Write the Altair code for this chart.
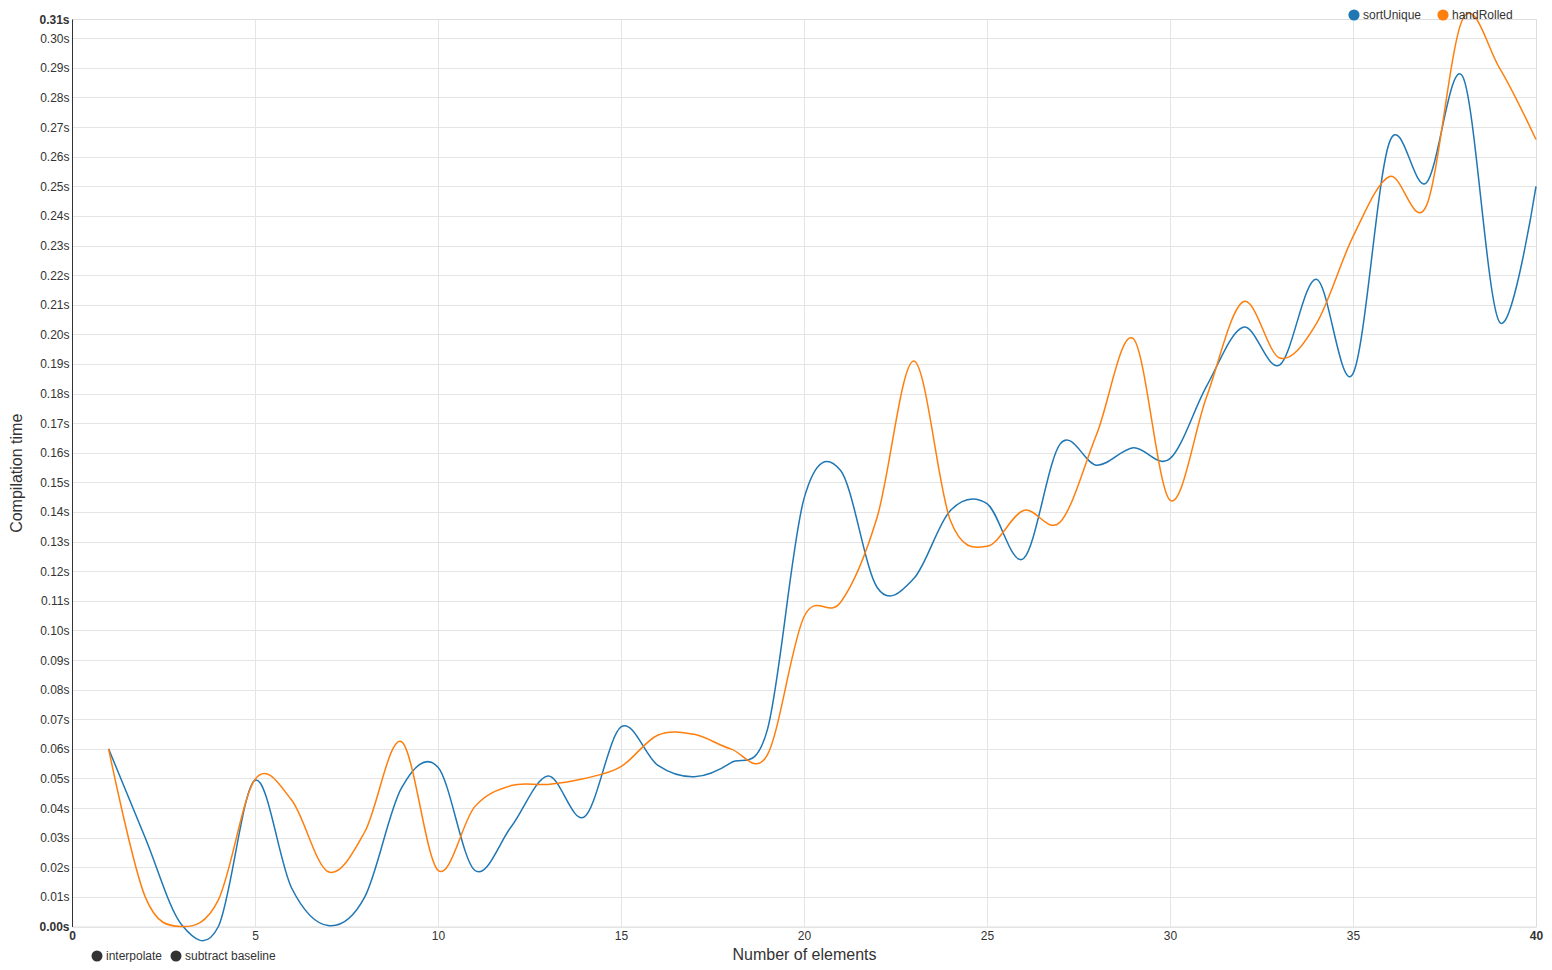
import altair as alt
import pandas as pd

# ---- data ----
n_elements = list(range(1, 41))

sort_unique = [
    0.0600, 0.0300, 0.0005, 0.0000, 0.0494, 0.0130, 0.0003, 0.0100, 0.0467, 0.0538,
    0.0190, 0.0337, 0.0508, 0.0370, 0.0674, 0.0545, 0.0506, 0.0553, 0.0665, 0.1445,
    0.1540, 0.1145, 0.1175, 0.1405, 0.1428, 0.1243, 0.1630, 0.1558, 0.1617, 0.1580,
    0.1825, 0.2024, 0.1897, 0.2186, 0.1867, 0.2650, 0.2511, 0.2870, 0.2042, 0.2500,
]

hand_rolled = [
    0.0600, 0.0100, 0.0000, 0.0090, 0.0497, 0.0427, 0.0185, 0.0320, 0.0624, 0.0190,
    0.0404, 0.0476, 0.0480, 0.0500, 0.0540, 0.0646, 0.0649, 0.0600, 0.0580, 0.1046,
    0.1095, 0.1383, 0.1910, 0.1371, 0.1284, 0.1405, 0.1366, 0.1664, 0.1985, 0.1440,
    0.1789, 0.2110, 0.1920, 0.2036, 0.2330, 0.2533, 0.2433, 0.3065, 0.2900, 0.2658,
]

series_names = ["sortUnique", "handRolled"]
series_colors = ["#1f77b4", "#ff7f0e"]
controls = ["interpolate", "subtract baseline"]

x_ticks = [0, 5, 10, 15, 20, 25, 30, 35, 40]
y_max = max(sort_unique + hand_rolled)
y_ticks = [round(i * 0.01, 2) for i in range(31)] + [y_max]

FONT = "Liberation Sans"
TXT = "#333333"

df = pd.DataFrame({
    "n": n_elements + n_elements,
    "time": sort_unique + hand_rolled,
    "series": [series_names[0]] * len(n_elements) + [series_names[1]] * len(n_elements),
})
ctrl_df = pd.DataFrame({"control": controls})

x_axis = alt.Axis(
    values=x_ticks,
    tickCount=60,
    labelExpr="format(datum.value, 'd')",
    title="Number of elements",
    domain=False,
    ticks=False,
    labelFlush=False,
    labelOverlap=False,
    labelPadding=4,
    labelFont=FONT,
    labelFontSize=12,
    labelColor=TXT,
    labelFontWeight={"condition": {"test": "datum.value == 0 || datum.value == 40", "value": "bold"}, "value": "normal"},
    gridColor="#e5e5e5",
    gridOpacity={"condition": {"test": "datum.value == 0 || datum.value == 40", "value": 0}, "value": 1},
    titleFont=FONT,
    titleFontSize=16,
    titleFontWeight="normal",
    titleColor=TXT,
    titlePadding=5,
)

y_axis = alt.Axis(
    values=y_ticks,
    tickCount=60,
    title="Compilation time",
    labelExpr="format(datum.value, '.2f') + 's'",
    domain=True,
    domainColor="#333333",
    domainWidth=1,
    ticks=False,
    labelFlush=False,
    labelOverlap=False,
    labelPadding=3,
    labelFont=FONT,
    labelFontSize=12,
    labelColor=TXT,
    labelFontWeight={"condition": {"test": "datum.value == 0 || datum.value > 0.305", "value": "bold"}, "value": "normal"},
    gridColor="#e5e5e5",
    gridOpacity={"condition": {"test": "datum.value > 0.305", "value": 0}, "value": 1},
    titleFont=FONT,
    titleFontSize=16,
    titleFontWeight="normal",
    titleColor=TXT,
    titlePadding=14,
)

x_enc = alt.X("n:Q", scale=alt.Scale(domain=[0, 40], nice=False, zero=False), axis=x_axis)
y_enc = alt.Y("time:Q", scale=alt.Scale(domain=[0, y_max], nice=False, zero=False), axis=y_axis)

lines = alt.Chart(df).mark_line(interpolate="cardinal", strokeWidth=1.5).encode(
    x=x_enc,
    y=y_enc,
    color=alt.Color("series:N", scale=alt.Scale(domain=series_names, range=series_colors), legend=None),
    detail="series:N",
)

series_legend = alt.Chart(df).mark_point(filled=True, size=0, opacity=1).encode(
    x="n:Q",
    y="time:Q",
    fill=alt.Fill(
        "series:N",
        scale=alt.Scale(domain=series_names, range=series_colors),
        legend=alt.Legend(
            title=None,
            orient="none",
            legendX=1276,
            legendY=-10,
            direction="horizontal",
            symbolType="circle",
            symbolSize=125,
            symbolStrokeWidth=0,
            symbolOpacity=1,
            labelFont=FONT,
            labelFontSize=12,
            labelColor=TXT,
            labelOffset=3,
            columnPadding=15,
        ),
    ),
)

control_legend = alt.Chart(ctrl_df).mark_point(filled=True, size=0, opacity=1, color="#333333").encode(
    shape=alt.Shape(
        "control:N",
        scale=alt.Scale(domain=controls, range=["circle", "circle"]),
        legend=alt.Legend(
            title=None,
            orient="none",
            legendX=19,
            legendY=931,
            direction="horizontal",
            symbolSize=121,
            symbolFillColor="#333333",
            symbolStrokeWidth=0,
            symbolOpacity=1,
            labelFont=FONT,
            labelFontSize=12,
            labelColor=TXT,
            labelOffset=3,
            columnPadding=7,
        ),
    ),
)

chart = alt.layer(lines, series_legend, control_legend).resolve_scale(
    color="independent", fill="independent", shape="independent"
).properties(
    width=1464,
    height=907.5,
    autosize=alt.AutoSizeParams(type="none"),
    padding={"left": 64, "top": 11, "right": 8, "bottom": 35},
).configure_view(strokeWidth=0).configure(font=FONT)

chart.save("out.html", embed_options={"renderer": "svg", "actions": False})
